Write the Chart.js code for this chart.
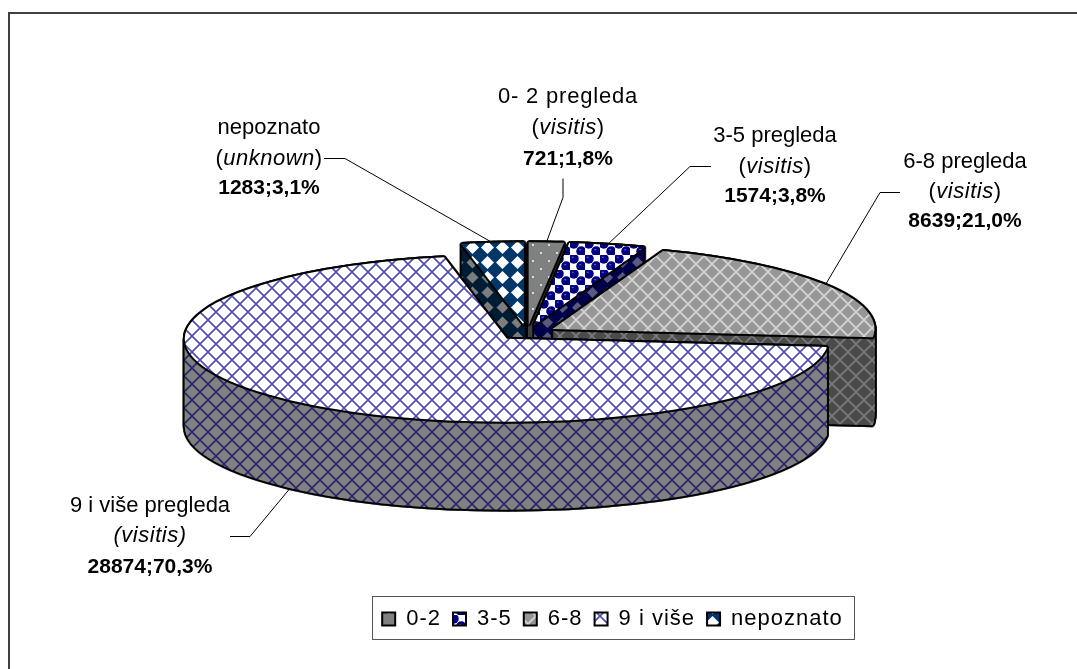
<!DOCTYPE html>
<html>
<head>
<meta charset="utf-8">
<style>
  html, body { margin: 0; padding: 0; background: #fff; }
  canvas { display: block; }
</style>
<script src="https://cdn.jsdelivr.net/npm/chart.js@4/dist/chart.umd.min.js"></script>
</head>
<body>
<canvas id="pieChart" width="1077" height="669"></canvas>
<script>
const categories = ["0-2", "3-5", "6-8", "9 i više", "nepoznato"];
const values = [721, 1574, 8639, 28874, 1283];
const calloutNames = ["0- 2 pregleda", "3-5 pregleda", "6-8 pregleda", "9 i više pregleda", "nepoznato"];
const calloutSubs = ["visitis", "visitis", "visitis", "visitis", "unknown"];

// where the callouts sit: text centre, three baselines, leader line bend points
const calloutPos = [
  { x: 568, y: [103, 134, 165], line: [[563, 178], [563, 197]] },
  { x: 775, y: [142, 173, 202], line: [[711, 166], [690, 166]] },
  { x: 965, y: [168, 198, 227], line: [[900, 192], [880, 192]] },
  { x: 150, y: [512, 542, 573], line: [[230, 536], [250, 536]] },
  { x: 269, y: [134, 165, 194], line: [[324, 158], [345, 158]] }
];

// fake 3D pie
const pieX = 527, pieY = 333, radiusX = 322, radiusY = 83, depth = 88, explode = 30;
const drawOrder = [4, 0, 1, 2, 3]; // back to front
const W = 1077, H = 669;

function tile(size, bg, paint) {
  const c = document.createElement("canvas");
  c.width = c.height = size;
  const g = c.getContext("2d");
  g.fillStyle = bg;
  g.fillRect(0, 0, size, size);
  paint(g, size);
  return document.createElement("canvas").getContext("2d").createPattern(c, "repeat");
}
function lattice(bg, fg, w) {
  return tile(16, bg, function (g, s) {
    g.strokeStyle = fg;
    g.lineWidth = w;
    g.beginPath();
    g.moveTo(0, 0); g.lineTo(s, s);
    g.moveTo(s, 0); g.lineTo(0, s);
    g.stroke();
  });
}
function diamonds(bg, fg, r) {
  return tile(15, bg, function (g, s) {
    g.fillStyle = fg;
    const p = s / 2;
    g.beginPath();
    g.moveTo(p - r, p); g.lineTo(p, p - r);
    g.lineTo(p + r, p); g.lineTo(p, p + r);
    g.closePath();
    g.fill();
  });
}
function dots(bg, fg) {
  return tile(16, bg, function (g) {
    g.fillStyle = fg;
    g.fillRect(4, 4, 2, 2);
    g.fillRect(12, 12, 2, 2);
  });
}
function bubbles() {
  return tile(15, "#fff", function (g) {
    [[3.75, 3.75], [11.25, 11.25]].forEach(function (p) {
      g.fillStyle = "#000080";
      g.beginPath();
      g.arc(p[0], p[1], 5, 0, Math.PI * 2);
      g.fill();
      g.fillStyle = "#6f78d8";
      g.fillRect(p[0] - 2, p[1] - 2, 2, 1);
    });
  });
}

const topFills = [
  dots("#808080", "#bfe4e4"),
  bubbles(),
  lattice("#969696", "#d6d6d6", 1.6),
  lattice("#ffffff", "#4c4cb0", 1.6),
  diamonds("#003768", "#ffffff", 6.5)
];
const wallFills = [
  dots("#404040", "#70a0a0"),
  diamonds("#00004a", "#5a5a80", 5.5),
  lattice("#4b4b4b", "#7c7c7c", 1.6),
  lattice("#808080", "#26266e", 1.6),
  diamonds("#001c34", "#7d7d7d", 6)
];

function layer() {
  const c = document.createElement("canvas");
  c.width = W;
  c.height = H;
  return c;
}
function sliceOffset(el) {
  const half = (el.startAngle + el.endAngle) / 2;
  return { x: pieX + Math.cos(half) * explode, y: pieY + Math.sin(half) * explode * radiusY / radiusX };
}
// silhouette of one slice, swept downwards over `sweep` pixels
function sliceMask(el, sweep) {
  const c = layer(), g = c.getContext("2d");
  const o = sliceOffset(el);
  const sx = radiusX / el.outerRadius, sy = radiusY / el.outerRadius;
  for (let i = sweep; i >= 0; i--) {
    g.setTransform(sx, 0, 0, sy, o.x - sx * el.x, o.y + i - sy * el.y);
    el.draw(g);
  }
  return c;
}
function paintMask(ctx, mask, fill, grow) {
  const c = layer(), g = c.getContext("2d");
  if (grow) {
    for (let a = 0; a < 16; a++) {
      g.drawImage(mask, Math.cos(a * Math.PI / 8) * grow, Math.sin(a * Math.PI / 8) * grow);
    }
  } else {
    g.drawImage(mask, 0, 0);
  }
  g.globalCompositeOperation = "source-in";
  g.fillStyle = fill;
  g.fillRect(0, 0, W, H);
  ctx.drawImage(c, 0, 0);
}

const pie3d = {
  id: "pie3d",
  beforeLayout(chart) {
    chart.ctx.letterSpacing = "1px"; // legend text runs wide in the original
  },
  beforeDatasetsDraw(chart) {
    const ctx = chart.ctx;
    const arcs = chart.getDatasetMeta(0).data;
    drawOrder.forEach(function (i) {
      const wall = sliceMask(arcs[i], depth);
      const face = sliceMask(arcs[i], 0);
      paintMask(ctx, wall, "#000", 1.6);
      paintMask(ctx, wall, wallFills[i], 0);
      paintMask(ctx, face, "#000", 1.6);
      paintMask(ctx, face, topFills[i], 0);
    });
    return false;
  },
  beforeDraw(chart) {
    const ctx = chart.ctx;
    ctx.save();
    ctx.fillStyle = "#fff";
    ctx.fillRect(0, 0, W, H);
    ctx.fillStyle = "#404040";
    ctx.fillRect(8, 12, W - 8, 2);
    ctx.fillRect(8, 12, 2, H - 12);
    ctx.restore();
  },
  afterDraw(chart) {
    const ctx = chart.ctx;
    const arcs = chart.getDatasetMeta(0).data;
    const lg = chart.legend;
    const hits = lg.legendHitBoxes;
    const last = hits[hits.length - 1];
    const boxL = Math.round(hits[0].left) - 10;
    const boxR = Math.round(last.left + last.width) + 11;
    ctx.save();
    ctx.strokeStyle = "#555";
    ctx.lineWidth = 1;
    ctx.strokeRect(boxL + 0.5, Math.round(lg.top) + 0.5, boxR - boxL, Math.round(lg.height) - 1);

    values.forEach(function (v, i) {
      const pos = calloutPos[i], el = arcs[i];
      const half = (el.startAngle + el.endAngle) / 2;
      const o = sliceOffset(el);
      // leader line ends on the rim of the slice, front slice on its lower edge
      const ex = o.x + Math.cos(half) * radiusX;
      const ey = o.y + Math.sin(half) * radiusY + (Math.sin(half) > 0 ? depth : 0);
      ctx.strokeStyle = "#000";
      ctx.lineWidth = 1;
      ctx.beginPath();
      ctx.moveTo(pos.line[0][0], pos.line[0][1] + 0.5);
      ctx.lineTo(pos.line[1][0], pos.line[1][1] + 0.5);
      ctx.lineTo(ex, ey);
      ctx.stroke();

      const pct = (v / values.reduce(function (a, b) { return a + b; }, 0) * 100).toFixed(1).replace(".", ",");
      const plain = "22px 'Liberation Sans'";
      const slant = "italic 22px 'Liberation Sans'";
      const sub = i === 3
        ? [[slant, "(" + calloutSubs[i] + ")"]]
        : [[plain, "("], [slant, calloutSubs[i]], [plain, ")"]];
      textRow(ctx, pos.x, pos.y[0], [[plain, calloutNames[i]]], i === 0 ? "0.8px" : "0px");
      textRow(ctx, pos.x, pos.y[1], sub, "0.5px");
      textRow(ctx, pos.x, pos.y[2], [["bold 21px 'Liberation Sans'", v + ";" + pct + "%"]], "0px");
    });
    ctx.restore();
  }
};

function textRow(ctx, cx, y, parts, spacing) {
  ctx.fillStyle = "#000";
  ctx.textAlign = "left";
  ctx.textBaseline = "alphabetic";
  ctx.letterSpacing = spacing;
  let total = 0;
  parts.forEach(function (p) { ctx.font = p[0]; total += ctx.measureText(p[1]).width; });
  let x = cx - total / 2;
  parts.forEach(function (p) {
    ctx.font = p[0];
    ctx.fillText(p[1], x, y);
    x += ctx.measureText(p[1]).width;
  });
  ctx.letterSpacing = "1px";
}

new Chart(document.getElementById("pieChart"), {
  type: "pie",
  data: {
    labels: categories,
    datasets: [{ data: values, backgroundColor: topFills, borderWidth: 0 }]
  },
  plugins: [pie3d],
  options: {
    responsive: false,
    animation: false,
    layout: { padding: { left: 342, right: 194, top: 20, bottom: 29 } },
    plugins: {
      tooltip: { enabled: false },
      legend: {
        position: "bottom",
        labels: {
          boxWidth: 13,
          boxHeight: 13,
          padding: 12,
          color: "#000",
          font: { family: "'Liberation Sans'", size: 22, lineHeight: 0.88 },
          generateLabels(chart) {
            return Chart.overrides.pie.plugins.legend.labels.generateLabels(chart).map(function (item) {
              item.strokeStyle = "#000";
              item.lineWidth = 2;
              return item;
            });
          }
        }
      }
    }
  }
});
</script>
</body>
</html>
